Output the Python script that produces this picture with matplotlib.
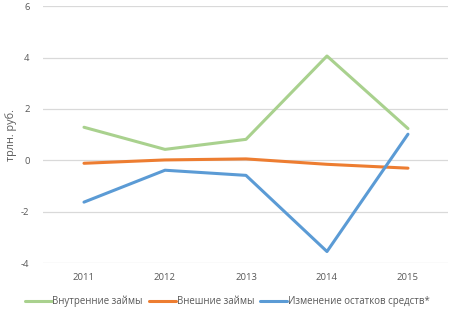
import matplotlib
matplotlib.use("Agg")
import matplotlib.pyplot as plt

years = ["2011", "2012", "2013", "2014", "2015"]
domestic = [1.29, 0.43, 0.82, 4.06, 1.24]
external = [-0.11, 0.02, 0.06, -0.15, -0.30]
balances = [-1.62, -0.38, -0.58, -3.54, 1.02]
labels = ["Внутренние займы", "Внешние займы", "Изменение остатков средств*"]
colors = ["#A9D18E", "#ED7D31", "#5B9BD5"]
yticks = [-4, -2, 0, 2, 4, 6]

plt.rcParams['font.family'] = ['Open Sans', 'DejaVu Sans']
fig = plt.figure(figsize=(4.54, 3.2), dpi=100)
ax = fig.add_axes([0.0958, 0.177, 0.892, 0.804])
x = list(range(len(years)))
for s, lab, c in zip([domestic, external, balances], labels, colors):
    ax.plot(x, s, color=c, lw=2.2, label=lab, solid_capstyle='round')
ax.set_xlim(-0.5, len(years) - 0.5)
ax.set_ylim(-4, 6)
ax.set_yticks(yticks)
ax.set_yticklabels([str(v) for v in yticks])
ax.set_xticks(x)
ax.set_xticklabels(years)
ax.tick_params(length=0, labelsize=6.8, labelcolor="#595959")
ax.tick_params(axis='x', pad=7)
ax.tick_params(axis='y', pad=10)
for sp in ax.spines.values():
    sp.set_visible(False)
ax.grid(axis='y', color="#D9D9D9", lw=0.9)
ax.set_axisbelow(True)
ax.set_ylabel("трлн. руб.", fontsize=7.8, color="#595959", labelpad=3)
leg = fig.legend(loc='center', bbox_to_anchor=(0.5, 0.058), ncol=3, frameon=False,
                 fontsize=6.9, handlelength=2.8, handletextpad=0.1, columnspacing=0.6)
for t in leg.get_texts():
    t.set_color("#595959")
fig.savefig("out.png", dpi=100)
